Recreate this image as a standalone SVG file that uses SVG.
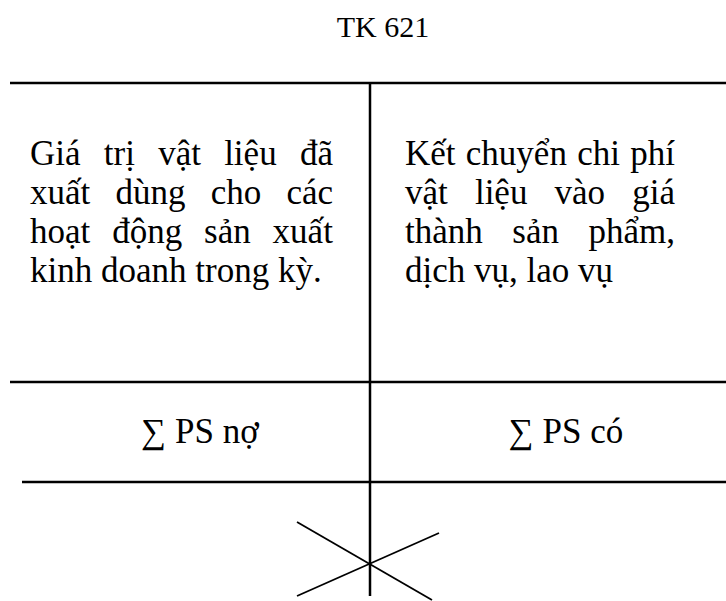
<svg xmlns="http://www.w3.org/2000/svg" width="726" height="601" viewBox="0 0 726 601">
<style>
text{font-family:"Liberation Serif","Times New Roman","DejaVu Serif",serif;fill:#000}
.t{font-size:30px}
.b{font-size:35px}
.ln{stroke:#000;stroke-width:2.5;fill:none}
.x{stroke:#000;stroke-width:1.8;fill:none}
</style>
<rect width="726" height="601" fill="#fff"/>
<g id="title"><text class="t" x="383" y="37" text-anchor="middle">TK 621</text></g>
<g id="connectors">
<line class="ln" x1="10" y1="83" x2="726" y2="83"/>
<line class="ln" x1="370" y1="83" x2="370" y2="596"/>
<line class="ln" x1="10" y1="382" x2="726" y2="382"/>
<line class="ln" x1="22" y1="482" x2="726" y2="482"/>
<line class="x" x1="297" y1="522" x2="432" y2="600"/>
<line class="x" x1="297" y1="596" x2="439" y2="533"/>
</g>
<g id="debit">
<text class="b" x="30" y="165" word-spacing="14.5">Giá trị vật liệu đã</text>
<text class="b" x="30" y="204" word-spacing="16.45">xuất dùng cho các</text>
<text class="b" x="30" y="243" word-spacing="13.15">hoạt động sản xuất</text>
<text class="b" x="30" y="282">kinh doanh trong kỳ.</text>
</g>
<g id="credit">
<text class="b" x="405" y="165" word-spacing="1.55">Kết chuyển chi phí</text>
<text class="b" x="405" y="204" word-spacing="18.4">vật liệu vào giá</text>
<text class="b" x="405" y="243" word-spacing="20.8">thành sản phẩm,</text>
<text class="b" x="405" y="282">dịch vụ, lao vụ</text>
</g>
<g id="sum-debit"><text class="b" x="200" y="443" text-anchor="middle">∑ PS nợ</text></g>
<g id="sum-credit"><text class="b" x="566" y="443" text-anchor="middle">∑ PS có</text></g>
</svg>
